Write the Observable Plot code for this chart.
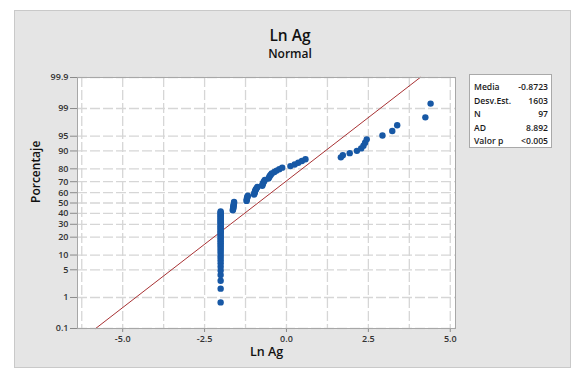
<!DOCTYPE html>
<html>
<head>
<meta charset="utf-8">
<script src="https://cdn.jsdelivr.net/npm/d3@7"></script>
<script src="https://cdn.jsdelivr.net/npm/@observablehq/plot@0.6"></script>
<style>
  html, body { margin: 0; padding: 0; background: #ffffff; }
  #wrap { position: relative; width: 577px; height: 374px; overflow: hidden; font-family: "Open Sans", sans-serif; }
  #panel { position: absolute; left: 14px; top: 10px; width: 555px; height: 356px; background: #e5e5e5; border: 1px solid #c9c9c9; }
  #chart { position: absolute; left: 0; top: 0; }
  .title { position: absolute; left: 190px; width: 200px; text-align: center; color: #111; white-space: nowrap; }
  #t1 { top: 24px; font-size: 15.5px; font-weight: 600; }
  #t2 { top: 45px; font-size: 12px; font-weight: 600; }
  #stats { position: absolute; left: 469px; top: 74px; width: 81px; height: 72px; background: #fff; border: 1px solid #a9a9a9; font-size: 8.6px; font-weight: 600; color: #1a1a1a; }
  .row { position: absolute; left: 4px; right: 3px; display: flex; justify-content: space-between; line-height: 10px; }
  svg [aria-label="y-axis tick label"], svg [aria-label="x-axis tick label"] { font-weight: 600; }
</style>
</head>
<body>
<div id="wrap">
  <div id="panel"></div>
  <div id="chart"></div>
  <div class="title" id="t1">Ln Ag</div>
  <div class="title" id="t2">Normal</div>
  <div id="stats"></div>
</div>
<script>
// Ln Ag sample, sorted ascending (97 values)
const lnAg = [
  -2.01, -2.01, -2.01, -2.01, -2.01, -2.01, -2.01, -2.01, -2.01, -2.01,
  -2.01, -2.01, -2.01, -2.01, -2.01, -2.01, -2.01, -2.01, -2.01, -2.01,
  -2.01, -2.01, -2.01, -2.01, -2.01, -2.01, -2.01, -2.01, -2.01, -2.01,
  -2.01, -2.01, -2.01, -2.01, -2.01, -2.01, -2.01, -2.01, -2.01, -2.01,
  -2.01,
  -1.64, -1.63, -1.63, -1.62, -1.62, -1.61, -1.61, -1.60, -1.60,
  -1.22, -1.21, -1.21, -1.20, -1.19, -1.18,
  -0.99, -0.98, -0.97, -0.96, -0.95, -0.93, -0.91, -0.89,
  -0.74, -0.73, -0.72, -0.70, -0.68, -0.66,
  -0.55, -0.53, -0.51, -0.48, -0.45,
  -0.37, -0.30, -0.22, -0.13,
  0.12, 0.25, 0.36, 0.47, 0.58,
  1.66, 1.72, 1.93, 2.15, 2.28, 2.35, 2.40, 2.45,
  2.93, 3.23, 3.38, 4.24, 4.40
];

// Fitted normal parameters and summary table
const mean = -0.8723;
const stdev = 1.603;
const statNames = ["Media", "Desv.Est.", "N", "AD", "Valor p"];
const statTexts = ["-0.8723", "1603", "97", "8.892", "<0.005"];

// Axis ticks
const percentTicks = [0.1, 1, 5, 10, 20, 30, 40, 50, 60, 70, 80, 90, 95, 99, 99.9];
const percentLabels = ["0.1", "1", "5", "10", "20", "30", "40", "50", "60", "70", "80", "90", "95", "99", "99.9"];
const xTicks = [-5, -2.5, 0, 2.5, 5];
const xGridLines = [-6.25, -5, -3.75, -2.5, -1.25, 0, 1.25, 2.5, 3.75, 5];

// Inverse standard normal CDF (Acklam's rational approximation)
function probit(p) {
  const a = [-3.969683028665376e+01, 2.209460984245205e+02, -2.759285104469687e+02, 1.383577518672690e+02, -3.066479806614716e+01, 2.506628277459239e+00];
  const b = [-5.447609879822406e+01, 1.615858368580409e+02, -1.556989798598866e+02, 6.680131188771972e+01, -1.328068155288572e+01];
  const c = [-7.784894002430293e-03, -3.223964580411365e-01, -2.400758277161838e+00, -2.549732539343734e+00, 4.374664141464968e+00, 2.938163982698783e+00];
  const d = [7.784695709041462e-03, 3.224671290700398e-01, 2.445134137142996e+00, 3.754408661907416e+00];
  const pl = 0.02425;
  if (p < pl) {
    const q = Math.sqrt(-2 * Math.log(p));
    return (((((c[0]*q+c[1])*q+c[2])*q+c[3])*q+c[4])*q+c[5]) / ((((d[0]*q+d[1])*q+d[2])*q+d[3])*q+1);
  }
  if (p > 1 - pl) {
    const q = Math.sqrt(-2 * Math.log(1 - p));
    return -(((((c[0]*q+c[1])*q+c[2])*q+c[3])*q+c[4])*q+c[5]) / ((((d[0]*q+d[1])*q+d[2])*q+d[3])*q+1);
  }
  const q = p - 0.5, r = q * q;
  return (((((a[0]*r+a[1])*r+a[2])*r+a[3])*r+a[4])*r+a[5])*q / (((((b[0]*r+b[1])*r+b[2])*r+b[3])*r+b[4])*r+1);
}

// Plotting positions: median ranks (i - 0.3) / (n + 0.4)
const n = lnAg.length;
const points = lnAg.map((v, i) => ({x: v, z: probit((i + 1 - 0.3) / (n + 0.4))}));

const tickZ = percentTicks.map(p => probit(p / 100));
const zMin = tickZ[0], zMax = tickZ[tickZ.length - 1];
const fit = [zMin, zMax].map(z => ({x: mean + stdev * z, z}));

const chart = Plot.plot({
  width: 577,
  height: 374,
  marginLeft: 77,
  marginRight: 122,
  marginTop: 77,
  marginBottom: 46,
  style: {background: "transparent", fontFamily: "Open Sans, sans-serif", fontSize: "9px", color: "#333"},
  x: {domain: [-6.38, 5.16]},
  y: {domain: [zMin, zMax]},
  marks: [
    Plot.frame({fill: "white", stroke: null}),
    Plot.gridX(xGridLines, {stroke: "#d6d6d6", strokeOpacity: 1, strokeWidth: 1.3, strokeDasharray: "10,3"}),
    Plot.gridY(tickZ, {stroke: "#d6d6d6", strokeOpacity: 1, strokeWidth: 1.3, strokeDasharray: "10,3"}),
    Plot.axisY(tickZ, {
      tickFormat: d => percentLabels[tickZ.indexOf(d)],
      tickSize: 7, tickPadding: 2, stroke: "#8a8a8a", fill: "#333", label: null
    }),
    Plot.axisX(xTicks, {
      tickFormat: d => d.toFixed(1),
      tickSize: 4, tickPadding: 3, stroke: "#8a8a8a", fill: "#333", label: null
    }),
    Plot.line(fit, {x: "x", y: "z", stroke: "#a83234", strokeWidth: 1}),
    Plot.dot(points, {x: "x", y: "z", r: 3.2, fill: "#1758a5", stroke: "none"}),
    Plot.frame({stroke: "#a7a7a7"}),
    Plot.text(["Ln Ag"], {frameAnchor: "bottom", dy: 27, fontSize: 12.5, fontWeight: 600, fill: "#111"}),
    Plot.text(["Porcentaje"], {frameAnchor: "left", dx: -41, rotate: -90, fontSize: 12, fontWeight: 600, fill: "#111"})
  ]
});
document.getElementById("chart").appendChild(chart);

// Summary statistics box
const stats = document.getElementById("stats");
statNames.forEach((name, i) => {
  const row = document.createElement("div");
  row.className = "row";
  row.style.top = (7 + i * 13.6) + "px";
  const a = document.createElement("span");
  a.textContent = name;
  const b = document.createElement("span");
  b.textContent = statTexts[i];
  row.append(a, b);
  stats.appendChild(row);
});
</script>
</body>
</html>
